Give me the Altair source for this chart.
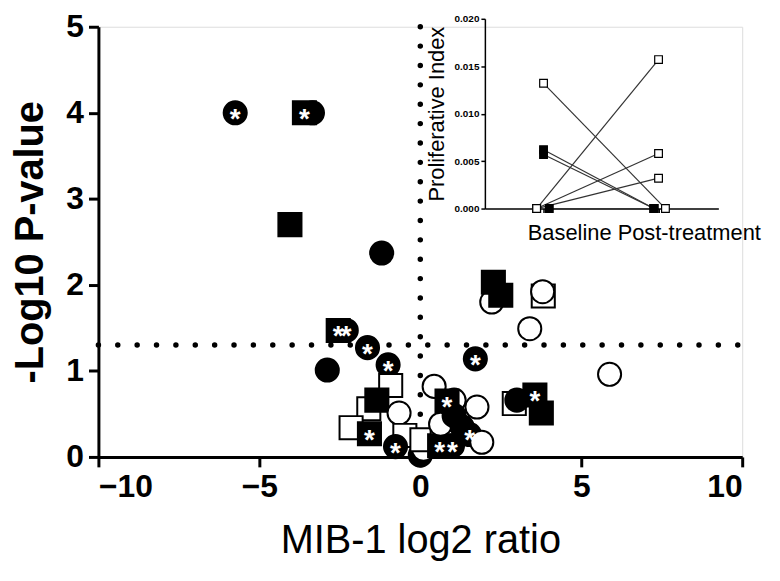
import altair as alt
import pandas as pd

# ---------------- main volcano plot data ----------------
x_vals = [0.0, -5.75, -3.35, -3.6, -4.05, -1.2, 2.22, 2.27, 2.5, 3.82, 3.8, 3.4, 5.88,
          -2.55, -2.3, -1.64, -1.0, -2.89, 1.71, 0.43, -0.92, -1.6, -1.35, -2.15, -1.58,
          -0.66, -0.48, -0.77, 0.1, 0.05, 1.05, 0.68, 0.6, 1.0, 0.83, 0.63, 1.05, 1.3,
          1.53, 1.91, 1.76, 2.92, 3.0, 3.56, 3.76]
y_vals = [0.02, 4.0, 4.0, 4.0, 2.70, 2.37, 1.80, 2.03, 1.88, 1.87, 1.92, 1.49, 0.96,
          1.47, 1.47, 1.27, 1.07, 1.01, 1.14, 0.82, 0.83, 0.56, 0.66, 0.34, 0.27,
          0.51, 0.25, 0.12, 0.09, 0.2, 0.66, 0.17, 0.13, 0.13, 0.65, 0.38, 0.48, 0.35,
          0.26, 0.17, 0.58, 0.62, 0.66, 0.72, 0.51]
shapes = ["circle", "circle", "circle", "square", "square", "circle", "circle", "square", "square", "square", "circle", "circle", "circle",
          "square", "circle", "circle", "circle", "circle", "circle", "circle", "square", "square", "square", "square", "square",
          "circle", "square", "circle", "circle", "square", "circle", "square", "square", "circle", "square", "circle", "circle", "circle",
          "circle", "circle", "circle", "square", "circle", "square", "square"]
filled = [1, 1, 1, 1, 1, 1, 0, 1, 1, 0, 0, 0, 0,
          1, 1, 1, 1, 1, 1, 0, 0, 0, 1, 0, 1,
          0, 0, 1, 0, 0, 0, 0, 1, 1, 1, 0, 1, 1,
          1, 0, 0, 0, 1, 1, 1]
starred = [0, 1, 0, 1, 0, 0, 0, 0, 0, 0, 0, 0, 0,
           1, 1, 1, 1, 0, 1, 0, 0, 0, 0, 0, 1,
           0, 0, 1, 0, 0, 0, 0, 1, 1, 1, 0, 0, 0,
           1, 0, 0, 0, 0, 1, 0]

threshold = [1.301]

# ---------------- inset data ----------------
inset_group = ["open", "open", "open", "open", "filled", "filled", "filled"]
inset_baseline = [0.0132, 0.0, 0.0, 0.0, 0.0062, 0.0057, 0.0]
inset_post = [0.0, 0.0157, 0.0058, 0.0032, 0.0, 0.0, 0.0]
inset_categories = ["Baseline", "Post-treatment"]

df = pd.DataFrame({
    "x": x_vals, "y": y_vals, "shape": shapes,
    "fill": ["black" if f else "white" for f in filled],
    "star": starred,
})
df["order"] = range(len(df))
stars_df = df[df["star"] == 1].copy()
stars_df["label"] = "*"

rows = []
for i, (g, b, p) in enumerate(zip(inset_group, inset_baseline, inset_post)):
    bx = 1.0 if b > 0 else (0.94 if g == "open" else 1.05)
    px = 2.0 if p > 0 else (2.06 if g == "open" else 1.96)
    fillc = "white" if g == "open" else "black"
    rows.append({"id": i, "t": bx, "v": b, "fill": fillc, "step": 0})
    rows.append({"id": i, "t": px, "v": p, "fill": fillc, "step": 1})
inset_df = pd.DataFrame(rows)

FONT = "Liberation Sans"
TOP = 17
W, H = 648, 433

xs = alt.Scale(domain=[-10, 10], nice=False, zero=False)
ys = alt.Scale(domain=[0, 5], nice=False, zero=False)

x_axis = alt.Axis(orient="bottom", values=[-10, -5, 0, 5, 10], title="MIB-1 log2 ratio", grid=False,
                  domainWidth=3, domainColor="black", tickWidth=3, tickSize=10, tickColor="black",
                  labelFontSize=32, labelFont=FONT, labelFontWeight="bold", labelColor="black",
                  labelPadding=5, titleFontSize=40, titleFont=FONT, titleFontWeight="normal",
                  titleColor="black", titlePadding=18)
y_axis = alt.Axis(orient="left", values=[0, 1, 2, 3, 4, 5], title="-Log10 P-value", grid=False,
                  domainWidth=3, domainColor="black", tickWidth=3, tickSize=10, tickColor="black",
                  labelFontSize=32, labelFont=FONT, labelFontWeight="bold", labelColor="black",
                  labelPadding=5, titleFontSize=40, titleFont=FONT, titleFontWeight="bold",
                  titleColor="black", titlePadding=15)

dot_style = dict(strokeDash=[0.001, 19.5], strokeCap="round", strokeWidth=5.5, color="black")

vline = alt.Chart(pd.DataFrame({"x": [0], "y": [5], "y2": [0]})).mark_rule(**dot_style).encode(
    x=alt.X("x:Q", scale=xs, axis=x_axis),
    y=alt.Y("y:Q", scale=ys, axis=y_axis),
    y2="y2:Q",
)
hline = alt.Chart(pd.DataFrame({"x": [-10], "x2": [10], "y": threshold})).mark_rule(**dot_style).encode(
    x=alt.X("x:Q", scale=xs, axis=x_axis),
    x2="x2:Q",
    y=alt.Y("y:Q", scale=ys, axis=y_axis),
)
points = alt.Chart(df).mark_point(size=540, strokeWidth=2, stroke="black", opacity=1).encode(
    x=alt.X("x:Q", scale=xs, axis=x_axis),
    y=alt.Y("y:Q", scale=ys, axis=y_axis),
    shape=alt.Shape("shape:N", scale=None),
    fill=alt.Fill("fill:N", scale=None),
    order="order:Q",
)
stars = alt.Chart(stars_df).mark_text(font=FONT, fontWeight="bold", fontSize=28, color="white",
                                      baseline="middle", dy=7).encode(
    x=alt.X("x:Q", scale=xs, axis=x_axis),
    y=alt.Y("y:Q", scale=ys, axis=y_axis),
    text="label:N",
)
main = alt.layer(vline, hline, points, stars)

# ---------------- inset ----------------
IB = 208 - 8 - TOP   # inset baseline (0.000) in plot pixels
IT = 17 - 8 - TOP    # inset top (0.020) in plot pixels
ix = alt.Scale(domain=[0.49, 2.52], range=[389, 624], nice=False, zero=False)
iy = alt.Scale(domain=[0, 0.02], range=[IB, IT], nice=False, zero=False)
ix_axis = alt.Axis(orient="bottom", offset=IB - H, values=[1, 2], labels=False,
                   grid=False, domainWidth=1.5, domainColor="black", tickWidth=1.5, tickSize=4,
                   tickColor="black", title="Baseline Post-treatment", titleFont=FONT,
                   titleFontSize=22, titleFontWeight="normal", titleColor="black",
                   titleX=549, titleY=24, titleAlign="center", titleBaseline="middle")
iy_axis = alt.Axis(orient="left", offset=-389, values=[0, 0.005, 0.01, 0.015, 0.02], format=".3f",
                   grid=False, domainWidth=1.5, domainColor="black", tickWidth=1.5, tickSize=4,
                   tickColor="black", labelFont=FONT, labelFontSize=10, labelFontWeight="bold",
                   labelColor="black", labelPadding=2, title="Proliferative Index", titleFont=FONT,
                   titleFontSize=22, titleFontWeight="normal", titleColor="black", titlePadding=6)

ilines = alt.Chart(inset_df).mark_line(color="#333333", strokeWidth=1.2).encode(
    x=alt.X("t:Q", scale=ix, axis=ix_axis),
    y=alt.Y("v:Q", scale=iy, axis=iy_axis),
    detail="id:N",
    order="step:Q",
)
ipoints = alt.Chart(inset_df).mark_point(shape="square", size=60, strokeWidth=1.2, stroke="black",
                                         opacity=1).encode(
    x=alt.X("t:Q", scale=ix, axis=ix_axis),
    y=alt.Y("v:Q", scale=iy, axis=iy_axis),
    fill=alt.Fill("fill:N", scale=None),
)
inset = alt.layer(ilines, ipoints)

chart = alt.layer(main, inset).resolve_scale(x="independent", y="independent").resolve_axis(
    x="independent", y="independent"
).properties(
    width=W, height=H,
    autosize=alt.AutoSizeParams(type="none"),
    padding={"left": 91, "top": TOP, "right": 30, "bottom": 120},
).configure_view(stroke=None).configure(background="white")

chart.save("out.html", embed_options={"renderer": "svg", "actions": False})
